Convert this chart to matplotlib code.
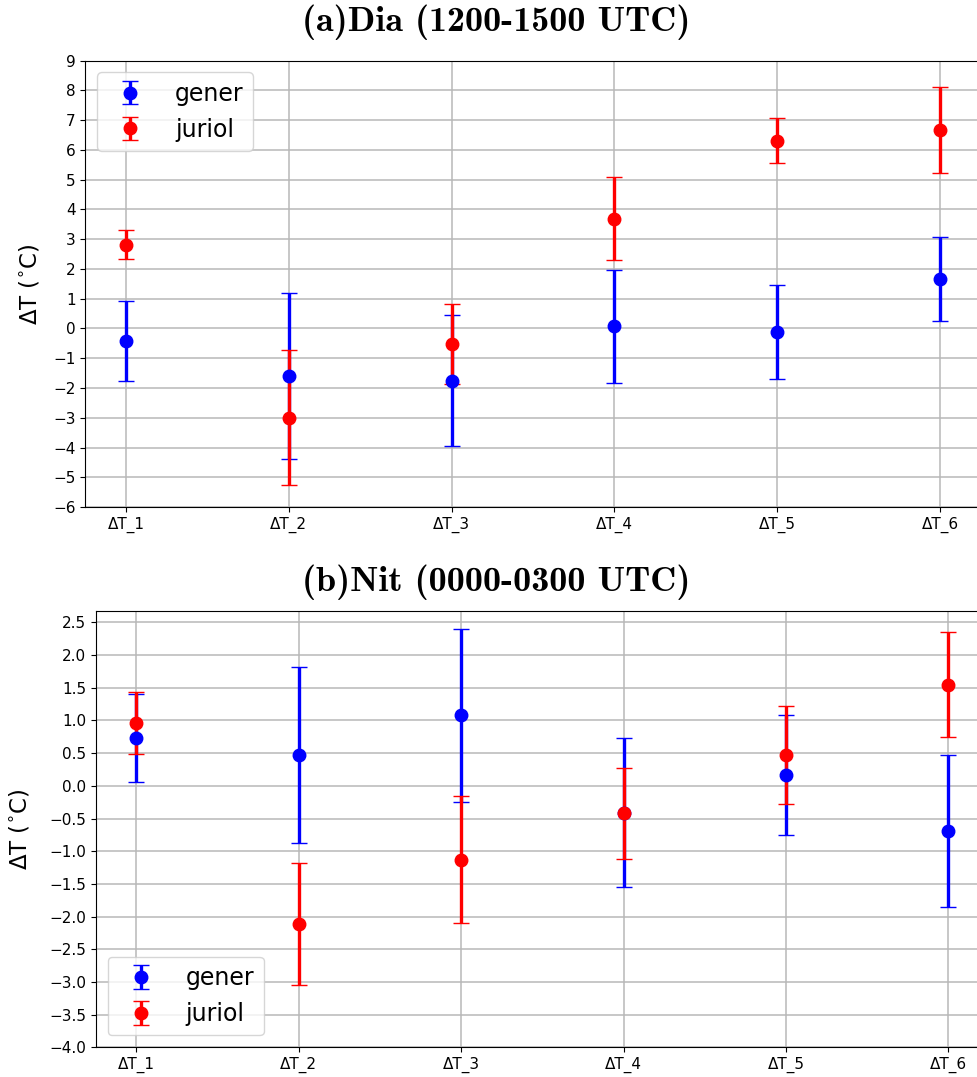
import os
import numpy as np
import matplotlib
matplotlib.use("Agg")
from matplotlib import pyplot as plt
from matplotlib.font_manager import FontProperties

labels = ['ΔT_1', 'ΔT_2', 'ΔT_3', 'ΔT_4', 'ΔT_5', 'ΔT_6']

# daytime (1200-1500 UTC): mean and std of the temperature differences
day_gener = [-0.42, -1.59, -1.76, 0.07, -0.12, 1.67]
day_gener_std = [1.35, 2.79, 2.20, 1.90, 1.57, 1.41]
day_juriol = [2.81, -3.00, -0.52, 3.69, 6.31, 6.66]
day_juriol_std = [0.49, 2.26, 1.34, 1.40, 0.75, 1.44]

# night (0000-0300 UTC)
nit_gener = [0.73, 0.47, 1.08, -0.41, 0.17, -0.69]
nit_gener_std = [0.67, 1.35, 1.32, 1.14, 0.92, 1.16]
nit_juriol = [0.96, -2.11, -1.13, -0.42, 0.47, 1.55]
nit_juriol_std = [0.47, 0.93, 0.97, 0.70, 0.75, 0.80]

ylabel = r'$\Delta$T ($^{\circ}$C)'

# computer modern bold for the panel titles
cmb = FontProperties(fname=os.path.join(matplotlib.get_data_path(), 'fonts', 'ttf', 'cmb10.ttf'), size=26)


def plot_panel(ax, gener, gener_std, juriol, juriol_std, legend_loc):
    x = np.arange(len(labels))
    ax.errorbar(x, gener, yerr=gener_std, fmt='o', color='blue', ecolor='blue',
                capsize=6, elinewidth=2.4, markersize=9, label='gener')
    ax.errorbar(x, juriol, yerr=juriol_std, fmt='o', color='red', ecolor='red',
                capsize=6, elinewidth=2.4, markersize=9, label='juriol')
    ax.set_xticks(x)
    ax.set_xticklabels(labels, fontsize=11)
    ax.tick_params(axis='y', labelsize=11)
    ax.grid(True, color='#b8b8b8', linewidth=1.1)
    ax.set_axisbelow(True)
    ax.set_ylabel(ylabel, fontsize=16.5)
    ax.legend(loc=legend_loc, fontsize=17, handletextpad=0.9)


fig = plt.figure(figsize=(9.77, 10.77), dpi=100)

ax1 = fig.add_axes([0.0873, 0.5292, 0.9166, 0.4146])
plot_panel(ax1, day_gener, day_gener_std, day_juriol, day_juriol_std, 'upper left')
ax1.set_ylim(-6, 9)
ax1.set_yticks(np.arange(-6, 10, 1))
ax1.yaxis.set_label_coords(-0.049, 0.5)

ax2 = fig.add_axes([0.098, 0.0276, 0.9143, 0.4054])
plot_panel(ax2, nit_gener, nit_gener_std, nit_juriol, nit_juriol_std, 'lower left')
ax2.set_ylim(-4.0, 2.68)
ax2.set_yticks(np.arange(-4.0, 2.51, 0.5))
ax2.yaxis.set_label_coords(-0.072, 0.5)

fig.text(0.508, 0.979, '(a)Dia (1200-1500 UTC)', ha='center', va='center', fontproperties=cmb)
fig.text(0.508, 0.459, '(b)Nit (0000-0300 UTC)', ha='center', va='center', fontproperties=cmb)

fig.savefig('out.png', dpi=100)
